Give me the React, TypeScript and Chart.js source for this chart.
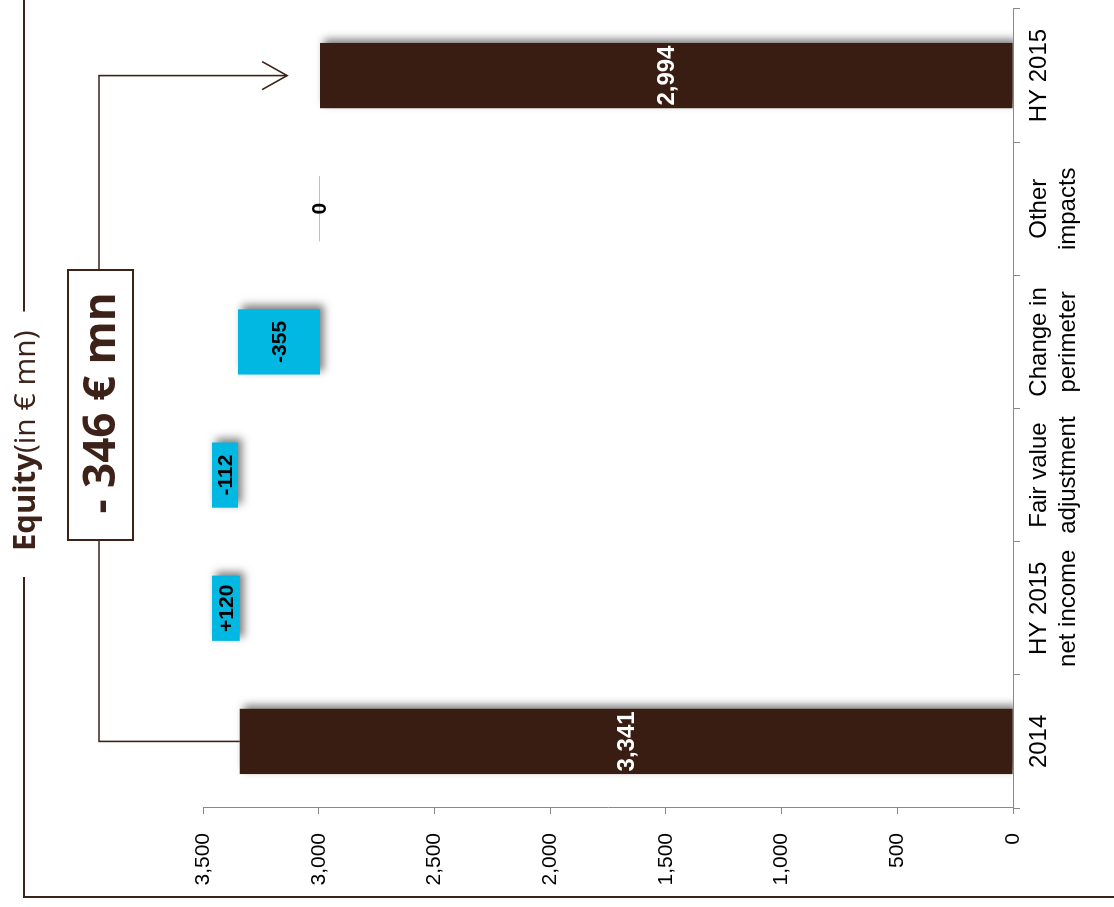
import React, { useEffect, useRef } from "react";
import { Chart, registerables } from "chart.js";

Chart.register(...registerables);

// Equity bridge: opening total, movements, closing total
const categories: (string | string[])[] = [
  "2014",
  ["HY 2015", "net income"],
  ["Fair value", "adjustment"],
  ["Change in", "perimeter"],
  ["Other", "impacts"],
  "HY 2015",
];
const openingEquity = 3341;
const movements = [120, -112, -355, 0];
const closingEquity = 2994;
const valueTicks = [0, 500, 1000, 1500, 2000, 2500, 3000, 3500];
const titleBold = "Equity";
const titleRest = "(in € mn)";
const netChangeLabel = "- 346 € mn";

const BROWN = "#391c12";
const BLUE = "#00b8e1";
const LINE = "#3d2219";

// Canvas is drawn upright and turned a quarter turn on the page
const CW = 907;
const CH = 1114;

function buildRanges(): [number, number][] {
  const out: [number, number][] = [[0, openingEquity]];
  let level = openingEquity;
  for (const m of movements) {
    out.push([level, level + m]);
    level += m;
  }
  out.push([0, closingEquity]);
  return out;
}

function buildLabels(): string[] {
  const fmt = (v: number) => v.toLocaleString("en-US");
  return [
    fmt(openingEquity),
    ...movements.map((m) => (m > 0 ? "+" + fmt(m) : fmt(m))),
    fmt(closingEquity),
  ];
}

export default function App() {
  const canvasRef = useRef<HTMLCanvasElement | null>(null);

  useEffect(() => {
    const canvas = canvasRef.current;
    if (!canvas) return;
    const ranges = buildRanges();
    const valueLabels = buildLabels();
    const last = ranges.length - 1;
    const isTotal = (i: number) => i === 0 || i === last;

    const bridgePlugin = {
      id: "bridge",
      afterDatasetsUpdate(chart: any) {
        // zero-size movements are drawn as a plain hairline without shadow
        const meta = chart.getDatasetMeta(0);
        meta.data.forEach((bar: any, i: number) => {
          if (ranges[i][0] !== ranges[i][1] || bar.__plain) return;
          const orig = bar.draw.bind(bar);
          bar.draw = (ctx: CanvasRenderingContext2D) => {
            ctx.save();
            ctx.shadowColor = "rgba(0,0,0,0)";
            ctx.shadowBlur = 0;
            ctx.shadowOffsetX = 0;
            ctx.shadowOffsetY = 0;
            orig(ctx);
            ctx.restore();
          };
          bar.__plain = true;
        });
      },
      beforeDatasetsDraw(chart: any) {
        const c = chart.ctx;
        c.save();
        c.shadowColor = "rgba(0,0,0,0.5)";
        c.shadowBlur = 8;
        c.shadowOffsetX = 4;
        c.shadowOffsetY = 4;
      },
      afterDatasetsDraw(chart: any) {
        const c = chart.ctx;
        c.restore();
        const meta = chart.getDatasetMeta(0);
        meta.data.forEach((bar: any, i: number) => {
          c.save();
          c.font = isTotal(i)
            ? "bold 24px 'Liberation Sans', Arial, sans-serif"
            : "bold 21px 'Liberation Sans', Arial, sans-serif";
          c.fillStyle = isTotal(i) ? "#ffffff" : "#000000";
          c.textAlign = "center";
          c.textBaseline = "middle";
          c.fillText(valueLabels[i], bar.x, (bar.y + bar.base) / 2 + 1);
          c.restore();
        });
      },
      afterDraw(chart: any) {
        const c = chart.ctx;
        const meta = chart.getDatasetMeta(0);
        const first = meta.data[0];
        const lastBar = meta.data[last];

        c.save();
        // frame with title set into its top edge
        const frameY = 24;
        const frameX = 10;
        const titleX = 356;
        c.font = "bold 31px 'Open Sans', sans-serif";
        const wBold = c.measureText(titleBold).width;
        c.font = "30px 'Open Sans', sans-serif";
        const wRest = c.measureText(titleRest).width;
        const gapStart = titleX - 26;
        const gapEnd = titleX + wBold + wRest + 19;

        c.strokeStyle = LINE;
        c.lineWidth = 2;
        c.beginPath();
        c.moveTo(CW, frameY);
        c.lineTo(gapEnd, frameY);
        c.moveTo(gapStart, frameY);
        c.lineTo(frameX, frameY);
        c.lineTo(frameX, CH);
        c.stroke();

        c.fillStyle = LINE;
        c.textBaseline = "alphabetic";
        c.textAlign = "left";
        c.font = "bold 31px 'Open Sans', sans-serif";
        c.fillText(titleBold, titleX, 35);
        c.font = "30px 'Open Sans', sans-serif";
        c.fillText(titleRest, titleX + wBold, 35);

        // net change box
        const boxL = 367;
        const boxR = 637;
        const boxT = 68;
        const boxB = 133;
        const lineY = 99;
        c.fillStyle = "#ffffff";
        c.fillRect(boxL, boxT, boxR - boxL, boxB - boxT);
        c.lineWidth = 2;
        c.strokeRect(boxL, boxT, boxR - boxL, boxB - boxT);
        c.fillStyle = LINE;
        c.font = "bold 44px 'Open Sans', sans-serif";
        c.textAlign = "center";
        c.fillText(netChangeLabel, (boxL + boxR) / 2 + 2, 115);

        // connectors from opening bar to box, and box to closing bar
        c.lineWidth = 1.6;
        c.beginPath();
        c.moveTo(boxL, lineY);
        c.lineTo(first.x, lineY);
        c.lineTo(first.x, first.y);
        c.stroke();

        const tipY = lastBar.y - 33;
        c.beginPath();
        c.moveTo(boxR, lineY);
        c.lineTo(lastBar.x, lineY);
        c.lineTo(lastBar.x, tipY);
        c.stroke();
        c.beginPath();
        c.moveTo(lastBar.x - 14, tipY - 25);
        c.lineTo(lastBar.x, tipY);
        c.lineTo(lastBar.x + 14, tipY - 25);
        c.stroke();
        c.restore();
      },
    };

    const chart = new Chart(canvas, {
      type: "bar",
      data: {
        labels: categories,
        datasets: [
          {
            data: ranges as any,
            backgroundColor: ranges.map((r, i) =>
              isTotal(i) ? BROWN : r[0] === r[1] ? "#7fd6ef" : BLUE
            ),
            borderWidth: 0,
            barPercentage: 0.49,
            categoryPercentage: 1,
            minBarLength: 1,
          },
        ],
      },
      options: {
        responsive: false,
        maintainAspectRatio: false,
        animation: false,
        layout: { padding: { top: 203, right: 9, bottom: 0, left: 0 } },
        plugins: {
          legend: { display: false },
          tooltip: { enabled: false },
        },
        scales: {
          x: {
            grid: {
              display: true,
              drawOnChartArea: false,
              drawTicks: true,
              tickLength: 7,
              color: "#888888",
              offset: true,
            },
            border: { display: true, color: "#888888", width: 1 },
            ticks: {
              color: "#000000",
              padding: 5,
              maxRotation: 0,
              autoSkip: false,
              font: { family: "'Liberation Sans', Arial, sans-serif", size: 24 },
            },
            afterFit: (s: any) => {
              s.height = 101;
            },
          },
          y: {
            min: valueTicks[0],
            max: valueTicks[valueTicks.length - 1],
            grid: {
              display: true,
              drawOnChartArea: false,
              drawTicks: true,
              tickLength: 6,
              color: "#888888",
            },
            border: { display: true, color: "#888888", width: 1 },
            ticks: {
              stepSize: valueTicks[1] - valueTicks[0],
              color: "#000000",
              padding: 19,
              font: { family: "'Liberation Sans', Arial, sans-serif", size: 21 },
            },
            afterFit: (s: any) => {
              s.width = 99;
            },
          },
        },
      },
      plugins: [bridgePlugin],
    });

    return () => chart.destroy();
  }, []);

  return (
    <div
      style={{
        position: "fixed",
        left: 0,
        top: 0,
        width: CH,
        height: CW,
        overflow: "hidden",
        background: "#ffffff",
      }}
    >
      <div
        style={{
          position: "absolute",
          left: 0,
          top: 0,
          width: CW,
          height: CH,
          transformOrigin: "0 0",
          transform: `translate(0px, ${CW}px) rotate(-90deg)`,
        }}
      >
        <canvas ref={canvasRef} width={CW} height={CH} style={{ display: "block" }} />
      </div>
    </div>
  );
}
